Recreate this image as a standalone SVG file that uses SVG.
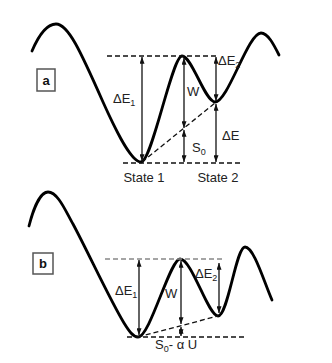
<svg xmlns="http://www.w3.org/2000/svg" width="332" height="363" viewBox="0 0 332 363">
<defs>
<marker id="ah" viewBox="0 0 8 6" refX="8" refY="3" markerWidth="7" markerHeight="5" markerUnits="userSpaceOnUse" orient="auto-start-reverse">
<path d="M0,0 L8,3 L0,6 Z" fill="#111"/>
</marker>
<style>
.curve{fill:none;stroke:#000;stroke-width:2.8;stroke-linecap:round;stroke-linejoin:round}
.dash{fill:none;stroke:#111;stroke-width:1.3;stroke-dasharray:5,3}
.gdash{fill:none;stroke:#888;stroke-width:1.5;stroke-dasharray:5,3}
.arr{fill:none;stroke:#111;stroke-width:1.3;marker-start:url(#ah);marker-end:url(#ah)}
.box{fill:#fff;stroke:#555;stroke-width:1.5}
text{font-family:"Liberation Sans",Arial,sans-serif;font-size:13px;fill:#222}
.sub{font-size:9px}
.bold{font-weight:bold;fill:#111}
</style>
</defs>
<rect width="332" height="363" fill="#fff"/>

<g id="panel-a">
<g id="curve-a">
<path class="curve" d="M32,51 C38,37 46,24 56,24 C68,24 80,50 103,102 C112,122 130,162 141,162 C152,162 172,56 182,56 C192,56 205,102 215,102 C228,102 248,33 261,33 C268,33 274,45 279,55"/>
</g>
<g id="box-a">
<rect class="box" x="37" y="69" width="18" height="22"/>
<text class="bold" x="46" y="85" text-anchor="middle">a</text>
</g>
<g id="connectors-a">
<line class="dash" x1="107" y1="56" x2="218" y2="56"/>
<line class="dash" x1="123" y1="163" x2="242" y2="163"/>
<line class="dash" x1="142" y1="162" x2="215" y2="103"/>
<line class="arr" x1="142" y1="57" x2="142" y2="161"/>
<line class="arr" x1="184" y1="58" x2="184" y2="128"/>
<line class="arr" x1="184" y1="130" x2="184" y2="162"/>
<line class="arr" x1="216" y1="57" x2="216" y2="101"/>
<line class="arr" x1="216" y1="104" x2="216" y2="162"/>
</g>
<g id="labels-a">
<text x="113" y="103">ΔE<tspan class="sub" dy="3">1</tspan></text>
<text x="187" y="96">W</text>
<text x="192" y="152">S<tspan class="sub" dy="3">0</tspan></text>
<text x="222" y="140">ΔE</text>
<text x="218" y="65">ΔE<tspan class="sub" dy="3">2</tspan></text>
<text x="144" y="182" text-anchor="middle">State 1</text>
<text x="218" y="182" text-anchor="middle">State 2</text>
</g>
</g>

<g id="panel-b">
<g id="curve-b">
<path class="curve" d="M29,226 C33,210 40,192 48,192 C58,192 66,212 73,224 C88,252 110,300 124,323 C129,331 133,337 138,337 C150,337 170,259 180,259 C192,259 208,316 218,316 C228,316 236,247 245,247 C254,247 264,282 272,300"/>
</g>
<g id="box-b">
<rect class="box" x="33" y="253" width="20" height="21"/>
<text class="bold" x="43" y="268" text-anchor="middle">b</text>
</g>
<g id="connectors-b">
<line class="gdash" x1="105" y1="259" x2="223" y2="259"/>
<line class="dash" x1="127" y1="337" x2="245" y2="337"/>
<line class="dash" x1="138" y1="337" x2="218" y2="316"/>
<line class="arr" x1="139" y1="260" x2="139" y2="335"/>
<line class="arr" x1="181" y1="261" x2="181" y2="324"/>
<line class="arr" x1="181" y1="327" x2="181" y2="336"/>
<line class="arr" x1="219" y1="263" x2="219" y2="313"/>
</g>
<g id="labels-b">
<text x="115" y="295">ΔE<tspan class="sub" dy="3">1</tspan></text>
<text x="165" y="298">W</text>
<text x="195" y="278">ΔE<tspan class="sub" dy="3">2</tspan></text>
<text x="155" y="349">S<tspan class="sub" dy="3">0</tspan><tspan dy="-3">- α U</tspan></text>
</g>
</g>
</svg>
